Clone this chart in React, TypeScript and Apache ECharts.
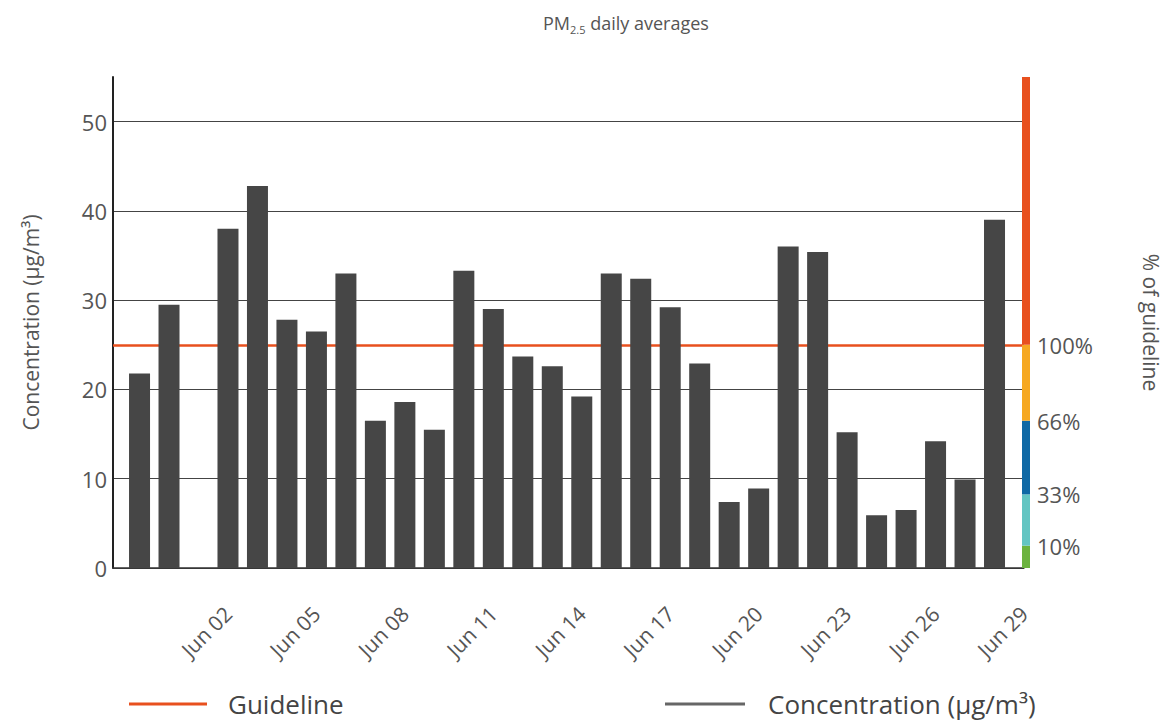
import React, { useEffect, useRef } from "react";
import * as echarts from "echarts";

// ---- data ----
const DATES = [
  "May 30", "May 31", "Jun 01", "Jun 02", "Jun 03", "Jun 04", "Jun 05", "Jun 06",
  "Jun 07", "Jun 08", "Jun 09", "Jun 10", "Jun 11", "Jun 12", "Jun 13", "Jun 14",
  "Jun 15", "Jun 16", "Jun 17", "Jun 18", "Jun 19", "Jun 20", "Jun 21", "Jun 22",
  "Jun 23", "Jun 24", "Jun 25", "Jun 26", "Jun 27", "Jun 28",
];
const CONCENTRATION: (number | null)[] = [
  21.8, 29.5, null, 38.0, 42.8, 27.8, 26.5, 33.0,
  16.5, 18.6, 15.5, 33.3, 29.0, 23.7, 22.6, 19.2,
  33.0, 32.4, 29.2, 22.9, 7.4, 8.9, 36.0, 35.4,
  15.2, 5.9, 6.5, 14.2, 9.9, 39.0,
];
const GUIDELINE = 25;
const X_TICKS = [3, 6, 9, 12, 15, 18, 21, 24, 27, 30];
const X_TICK_LABELS = ["Jun 02", "Jun 05", "Jun 08", "Jun 11", "Jun 14", "Jun 17", "Jun 20", "Jun 23", "Jun 26", "Jun 29"];
const Y_TICKS = [0, 10, 20, 30, 40, 50];
const PCT_LEVELS = [10, 33, 66, 100];
const PCT_COLORS = ["#6cb33f", "#63c5c2", "#0f69a5", "#f6a821", "#e8501e"];
const Y_MAX = 55;

const TEXT = "#555555";
const RED = "#e8501e";
const FONT = "'Open Sans', 'Noto Sans', sans-serif";

export default function App() {
  const ref = useRef<HTMLDivElement>(null);

  useEffect(() => {
    if (!ref.current) return;
    const chart = echarts.init(ref.current, undefined, { renderer: "svg" });

    const thresholds = PCT_LEVELS.map((p) => (p / 100) * GUIDELINE);
    const bounds = [0, ...thresholds, Y_MAX];
    const segments = bounds.slice(1).map((b, i) => +(b - bounds[i]).toFixed(3));

    const cbSeries = segments.map((s, i) => ({
      type: "bar",
      name: "cb" + i,
      xAxisIndex: 1,
      yAxisIndex: 1,
      stack: "cb",
      barWidth: "100%",
      silent: true,
      data: [s],
      itemStyle: { color: PCT_COLORS[i] },
    }));

    chart.setOption({
      animation: false,
      textStyle: { fontFamily: FONT },
      title: {
        text: "{a|PM}{b|2.5}{a| daily averages}",
        left: 538,
        top: 6,
        textStyle: {
          rich: {
            a: { fontSize: 18, color: TEXT, lineHeight: 24, fontWeight: "normal", fontFamily: FONT },
            b: { fontSize: 11, color: TEXT, lineHeight: 12, verticalAlign: "bottom", fontWeight: "normal", fontFamily: FONT },
          },
        },
      },
      legend: [
        {
          left: 124,
          top: 686,
          data: [{ name: "Guideline", icon: "rect", itemStyle: { color: RED } }],
          itemWidth: 78,
          itemHeight: 3,
          textStyle: { fontSize: 26, color: "#444", padding: [0, 0, 0, 16], fontFamily: FONT },
          selectedMode: false,
        },
        {
          left: 660,
          top: 686,
          data: [{ name: "Concentration (µg/m³)", icon: "rect", itemStyle: { color: "#666" } }],
          itemWidth: 80,
          itemHeight: 3,
          textStyle: { fontSize: 26, color: "#444", padding: [0, 0, 0, 18], fontFamily: FONT },
          selectedMode: false,
        },
      ],
      grid: [
        { left: 113, right: 145, top: 77, bottom: 159 },
        { left: 1022, width: 8, top: 77, bottom: 159 },
      ],
      xAxis: [
        {
          type: "value",
          gridIndex: 0,
          min: -0.9,
          max: 30,
          axisLine: { show: true, onZero: false, lineStyle: { color: "#333", width: 1.5 } },
          axisTick: { show: false },
          splitLine: { show: false },
          axisLabel: {
            customValues: X_TICKS,
            rotate: 45,
            margin: 42,
            fontSize: 21,
            color: TEXT,
            formatter: (v: number) => X_TICK_LABELS[X_TICKS.indexOf(v)] ?? "",
          },
        },
        { type: "category", gridIndex: 1, data: ["cb"], show: false },
      ],
      yAxis: [
        {
          type: "value",
          gridIndex: 0,
          min: 0,
          max: Y_MAX,
          interval: 10,
          axisLine: { show: true, onZero: false, lineStyle: { color: "#222", width: 2 } },
          axisTick: { show: false, customValues: Y_TICKS },
          axisLabel: { customValues: Y_TICKS, fontSize: 22, color: TEXT, margin: 6 },
          splitLine: { show: true, lineStyle: { color: "#444", width: 1 } },
          name: "Concentration (µg/m³)",
          nameLocation: "middle",
          nameRotate: 90,
          nameGap: 72,
          nameTextStyle: { fontSize: 21, color: TEXT },
        },
        {
          type: "value",
          gridIndex: 1,
          min: 0,
          max: Y_MAX,
          position: "right",
          axisLine: { show: false, onZero: false },
          axisTick: { show: false },
          splitLine: { show: false },
          axisLabel: {
            customValues: thresholds,
            margin: 7,
            fontSize: 22,
            color: TEXT,
            formatter: (v: number) => Math.round((v / GUIDELINE) * 100) + "%",
          },
          name: "% of guideline",
          nameLocation: "middle",
          nameRotate: -90,
          nameGap: 110,
          nameTextStyle: { fontSize: 21, color: TEXT },
        },
      ],
      series: [
        {
          type: "line",
          name: "Guideline",
          xAxisIndex: 0,
          yAxisIndex: 0,
          data: [],
          z: 1,
          itemStyle: { color: RED },
          markLine: {
            silent: true,
            symbol: "none",
            z: 1,
            label: { show: false },
            lineStyle: { color: RED, width: 2.5, type: "solid" },
            data: [{ yAxis: GUIDELINE }],
          },
        },
        {
          type: "bar",
          name: "Concentration (µg/m³)",
          xAxisIndex: 0,
          yAxisIndex: 0,
          barWidth: 21,
          z: 3,
          itemStyle: { color: "#464646" },
          data: DATES.map((d, i) => [i, CONCENTRATION[i]]),
        },
        ...cbSeries,
      ],
    });

    return () => chart.dispose();
  }, []);

  return (
    <div
      ref={ref}
      style={{ position: "fixed", left: 0, top: 0, width: 1169, height: 727, background: "#fff" }}
    />
  );
}
